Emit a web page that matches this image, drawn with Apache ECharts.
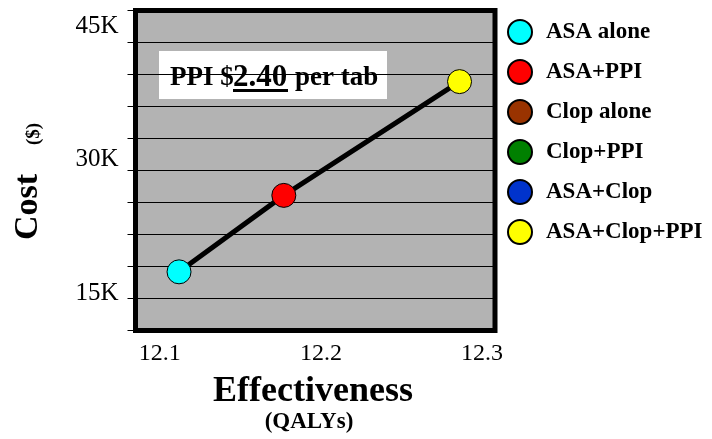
<!DOCTYPE html>
<html>
<head>
<meta charset="utf-8">
<script src="https://cdn.jsdelivr.net/npm/echarts@6/dist/echarts.min.js"></script>
<style>
  html, body { margin: 0; padding: 0; background: #fff; }
  #chart { width: 712px; height: 439px; }
</style>
</head>
<body>
<div id="chart"></div>
<script>
// Treatment strategies, in legend order
const strategies = ['ASA alone', 'ASA+PPI', 'Clop alone', 'Clop+PPI', 'ASA+Clop', 'ASA+Clop+PPI'];
const strategyColors = ['#00ffff', '#ff0000', '#993300', '#008000', '#0033cc', '#ffff00'];
// Effectiveness (QALYs) and cost ($) per strategy; null = not plotted
const effectiveness = [12.112, 12.177, null, null, null, 12.286];
const cost = [17400, 26000, null, null, null, 38800];
// Strategies joined by the frontier line
const frontier = ['ASA alone', 'ASA+PPI', 'ASA+Clop+PPI'];
// Axis labels
const xTickValues = [12.1, 12.2, 12.3];
const yTickValues = [15000, 30000, 45000];

const SERIF = 'Liberation Serif';

const chart = echarts.init(document.getElementById('chart'), null, { renderer: 'canvas' });

const pointSeries = strategies.map((name, i) => ({
  name: name,
  type: 'scatter',
  symbol: 'circle',
  symbolSize: 24,
  z: 4,
  itemStyle: { color: strategyColors[i], borderColor: '#000', borderWidth: 1, opacity: 1 },
  data: effectiveness[i] == null ? [] : [[effectiveness[i], cost[i]]]
}));

const frontierData = frontier.map(n => {
  const i = strategies.indexOf(n);
  return [effectiveness[i], cost[i]];
});

chart.setOption({
  animation: false,
  backgroundColor: '#ffffff',
  textStyle: { fontFamily: SERIF },
  grid: {
    left: 135.5, top: 10.5, width: 359.5, height: 320,
    show: true,
    backgroundColor: '#b3b3b3',
    borderColor: '#000',
    borderWidth: 5
  },
  xAxis: {
    type: 'value',
    min: 12.085, max: 12.308,
    axisLine: { show: false },
    axisTick: { show: false },
    splitLine: { show: false },
    axisLabel: {
      show: true,
      customValues: xTickValues,
      formatter: '{value}',
      fontFamily: SERIF, fontSize: 24, color: '#000', margin: 11
    }
  },
  yAxis: {
    type: 'value',
    min: 10800, max: 46800, interval: 3600,
    axisLine: { show: false },
    axisTick: { show: true, length: 8, lineStyle: { color: '#000', width: 1 } },
    splitLine: { show: true, lineStyle: { color: '#000', width: 1 } },
    axisLabel: {
      customValues: yTickValues,
      formatter: v => (v / 1000) + 'K',
      fontFamily: SERIF, fontSize: 25, color: '#000', margin: 17
    }
  },
  legend: {
    data: strategies,
    orient: 'vertical',
    left: 502, top: 14,
    icon: 'circle',
    itemWidth: 24, itemHeight: 24, itemGap: 14,
    textStyle: {
      fontFamily: SERIF, fontWeight: 'bold', fontSize: 23, color: '#000',
      padding: [0, 0, 0, 9]
    }
  },
  graphic: [
    {
      type: 'text', x: 28, y: 207, rotation: Math.PI / 2,
      style: {
        text: 'Cost', align: 'center', verticalAlign: 'middle',
        font: 'bold 34px ' + SERIF, fill: '#000'
      }
    },
    {
      type: 'text', x: 34, y: 134, rotation: Math.PI / 2,
      style: {
        text: '($)', align: 'center', verticalAlign: 'middle',
        font: 'bold 19px ' + SERIF, fill: '#000'
      }
    },
    {
      type: 'text', x: 313, y: 392,
      style: {
        text: 'Effectiveness', align: 'center', verticalAlign: 'middle',
        font: 'bold 36px ' + SERIF, fill: '#000'
      }
    },
    {
      type: 'text', x: 309, y: 422,
      style: {
        text: '(QALYs)', align: 'center', verticalAlign: 'middle',
        font: 'bold 23px ' + SERIF, fill: '#000'
      }
    },
    {
      type: 'group', z: 10,
      children: [
        { type: 'rect', shape: { x: 159, y: 51, width: 228, height: 48 }, style: { fill: '#fff' } },
        { type: 'text', x: 170, y: 78, style: { text: 'PPI $', align: 'left', verticalAlign: 'middle', font: 'bold 27px ' + SERIF, fill: '#000' } },
        { type: 'text', x: 233, y: 78, style: { text: '2.40', align: 'left', verticalAlign: 'middle', font: 'bold 31px ' + SERIF, fill: '#000' } },
        { type: 'rect', shape: { x: 233, y: 89, width: 55, height: 3 }, style: { fill: '#000' } },
        { type: 'text', x: 295, y: 78, style: { text: 'per tab', align: 'left', verticalAlign: 'middle', font: 'bold 27px ' + SERIF, fill: '#000' } }
      ]
    }
  ],
  series: [
    {
      name: 'frontier',
      type: 'line',
      data: frontierData,
      symbol: 'none',
      z: 3,
      lineStyle: { color: '#000', width: 5 },
      legendHoverLink: false
    }
  ].concat(pointSeries)
});
</script>
</body>
</html>
